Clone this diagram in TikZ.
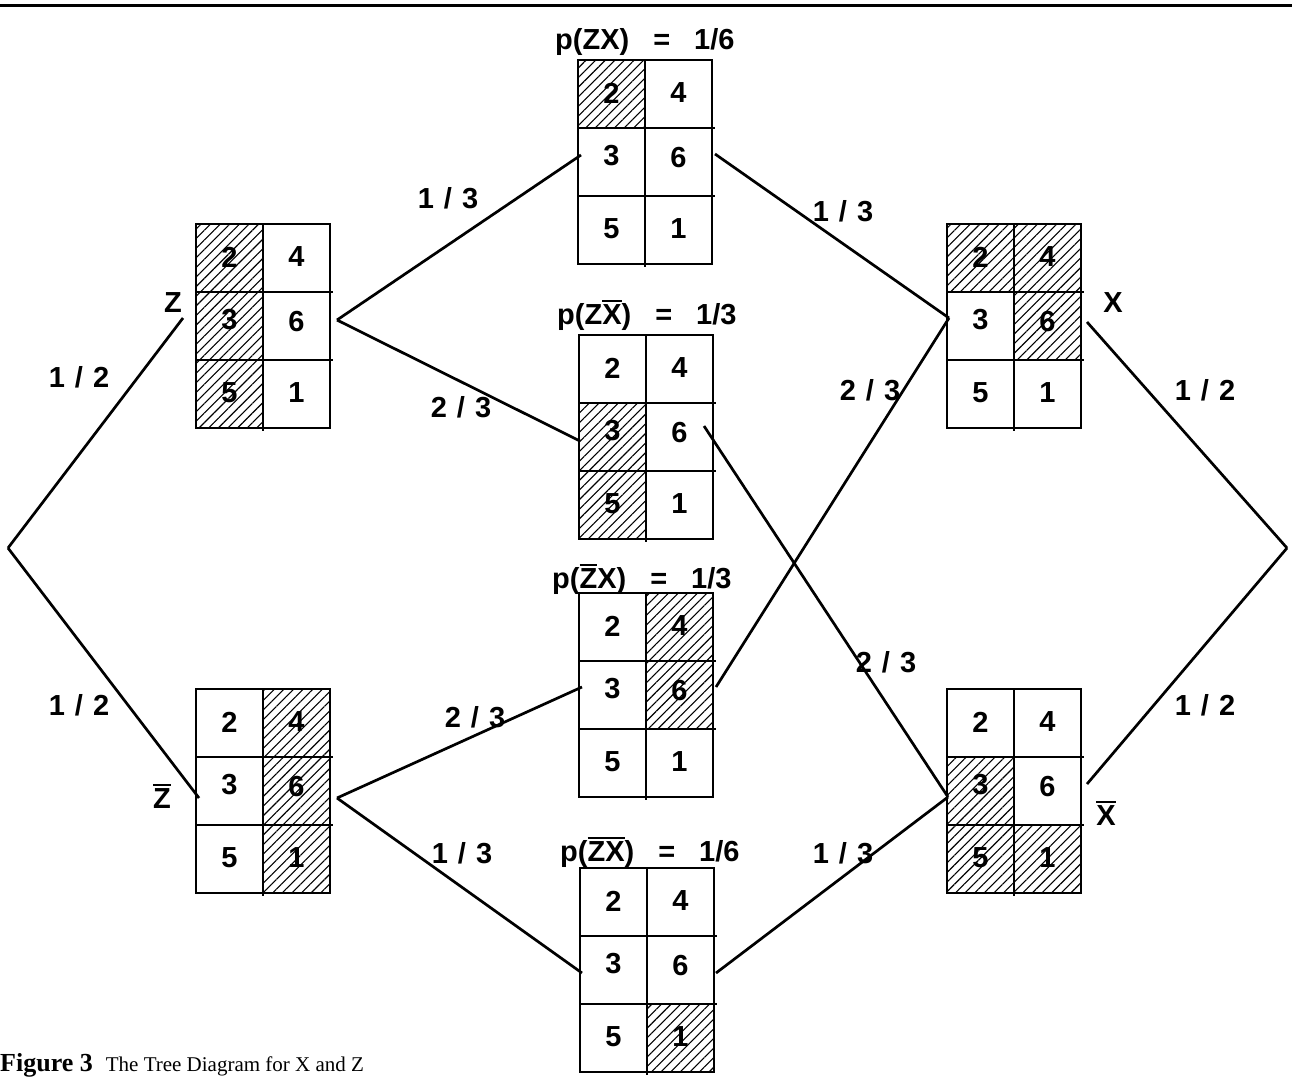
\documentclass[tikz,border=0pt]{standalone}
\usepackage{fontspec}
\setmainfont{Liberation Serif}
\newfontfamily\diagfont{Liberation Sans}
\usetikzlibrary{patterns.meta}

% bar over a piece of text
\newcommand\ovl[1]{\leavevmode\vbox{\hrule height 2pt\kern2.4pt\hbox{#1}}}

\tikzset{
  cellgrid/.style={line width=2.1pt},
  hatch/.style={pattern={Lines[distance=6.8pt,angle=45,line width=1.1pt]}},
  branch/.style={line width=2.7pt},
  num/.style={font=\diagfont\bfseries\fontsize{29}{29}\selectfont, inner sep=0pt},
  lbl/.style={font=\diagfont\bfseries\fontsize{29}{29}\selectfont, inner sep=0pt},
  ttl/.style={font=\diagfont\bfseries\fontsize{29}{29}\selectfont, inner sep=0pt, anchor=base west},
}

% a 2x3 table of die faces: name, left, top, list of hatched cells col/row
\newcommand\diebox[4]{%
  \begin{scope}[shift={(#2,#3)}]
    \foreach \c/\r in {#4} {
      \fill[hatch] ({67*\c},{68*\r}) rectangle ++(67,68);
    }
    \draw[cellgrid] (0,0) rectangle (134,204);
    \draw[cellgrid] (67,0) -- (67,207);
    \draw[cellgrid] (0,68) -- (137,68);
    \draw[cellgrid] (0,136) -- (137,136);
    \node[num] (#1-2) at (33.5,33) {2};
    \node[num] (#1-4) at (100.5,33) {4};
    \node[num] (#1-3) at (33.5,96) {3};
    \node[num] (#1-6) at (100.5,98) {6};
    \node[num] (#1-5) at (33.5,169) {5};
    \node[num] (#1-1) at (100.5,169) {1};
  \end{scope}}

% branch probability with slightly open spacing
\newcommand\frc[2]{#1\hspace{10pt}/\hspace{10pt}#2}

\begin{document}
\begin{tikzpicture}[x=1pt,y=-1pt]
\useasboundingbox (0,0) rectangle (1292,1079);
\fill[white] (0,0) rectangle (1292,1079);

% rule at the top of the page
\draw[line width=3pt] (0,5) -- (1292,5);

% outcome tables
\diebox{Z}{196}{224}{0/0,0/1,0/2}
\diebox{Zb}{196}{689}{1/0,1/1,1/2}
\diebox{ZX}{578}{60}{0/0}
\diebox{ZXb}{579}{335}{0/1,0/2}
\diebox{ZbX}{579}{593}{1/0,1/1}
\diebox{ZbXb}{580}{868}{1/2}
\diebox{X}{947}{224}{0/0,1/0,1/1}
\diebox{Xb}{947}{689}{0/1,0/2,1/2}

% joint probability titles
\node[ttl] (tZX)   at (555,49)  {p(ZX)\hspace{24pt}=\hspace{24pt}1/6};
\node[ttl] (tZXb)  at (557,324) {p(Z\ovl{X})\hspace{24pt}=\hspace{24pt}1/3};
\node[ttl] (tZbX)  at (552,588) {p(\ovl{Z}X)\hspace{24pt}=\hspace{24pt}1/3};
\node[ttl] (tZbXb) at (560,861) {p(\ovl{ZX})\hspace{24pt}=\hspace{24pt}1/6};

% event labels
\node[lbl] (lZ)  at (173,303) {Z};
\node[lbl] (lX)  at (1113,303) {X};
\node[lbl] (lZb) at (162,796) {\ovl{Z}};
\node[lbl] (lXb) at (1106,813) {\ovl{X}};

% branch end points
\coordinate (rootL) at (8,548);
\coordinate (rootR) at (1287,548);
\coordinate (Z-in) at (183,318);
\coordinate (Z-out) at (337,320);
\coordinate (Zb-in) at (199,798);
\coordinate (Zb-out) at (337,798);
\coordinate (ZX-in) at (581,155);
\coordinate (ZX-out) at (715,154);
\coordinate (ZXb-in) at (580,441);
\coordinate (ZXb-out) at (704,426);
\coordinate (ZbX-in) at (582,687);
\coordinate (ZbX-out) at (716,687);
\coordinate (ZbXb-in) at (582,973);
\coordinate (ZbXb-out) at (716,973);
\coordinate (X-in) at (949,318);
\coordinate (X-out) at (1087,322);
\coordinate (Xb-in) at (948,797);
\coordinate (Xb-out) at (1087,784);

% branches
\draw[branch] (rootL) -- (Z-in);
\draw[branch] (rootL) -- (Zb-in);
\draw[branch] (Z-out) -- (ZX-in);
\draw[branch] (Z-out) -- (ZXb-in);
\draw[branch] (Zb-out) -- (ZbX-in);
\draw[branch] (Zb-out) -- (ZbXb-in);
\draw[branch] (ZX-out) -- (X-in);
\draw[branch] (ZbX-out) -- (X-in);
\draw[branch] (ZXb-out) -- (Xb-in);
\draw[branch] (ZbXb-out) -- (Xb-in);
\draw[branch] (X-out) -- (rootR);
\draw[branch] (Xb-out) -- (rootR);

% branch probabilities
\node[lbl] (pZ)    at (79,377)   {\frc{1}{2}};
\node[lbl] (pZb)   at (79,705)   {\frc{1}{2}};
\node[lbl] (pZX)   at (448,198)  {\frc{1}{3}};
\node[lbl] (pZXb)  at (461,407)  {\frc{2}{3}};
\node[lbl] (pZbX)  at (475,717)  {\frc{2}{3}};
\node[lbl] (pZbXb) at (462,853)  {\frc{1}{3}};
\node[lbl] (qZX)   at (843,211)  {\frc{1}{3}};
\node[lbl] (qZbX)  at (870,390)  {\frc{2}{3}};
\node[lbl] (qZXb)  at (886,662)  {\frc{2}{3}};
\node[lbl] (qZbXb) at (843,853)  {\frc{1}{3}};
\node[lbl] (pX)    at (1205,390) {\frc{1}{2}};
\node[lbl] (pXb)   at (1205,705) {\frc{1}{2}};

% caption
\node[anchor=base west, inner sep=0pt, font=\fontsize{21}{21}\selectfont] (caption) at (0,1071)
  {{\fontsize{26}{26}\selectfont\bfseries Figure 3}\hspace{13pt}The Tree Diagram for X and Z};
\end{tikzpicture}
\end{document}
